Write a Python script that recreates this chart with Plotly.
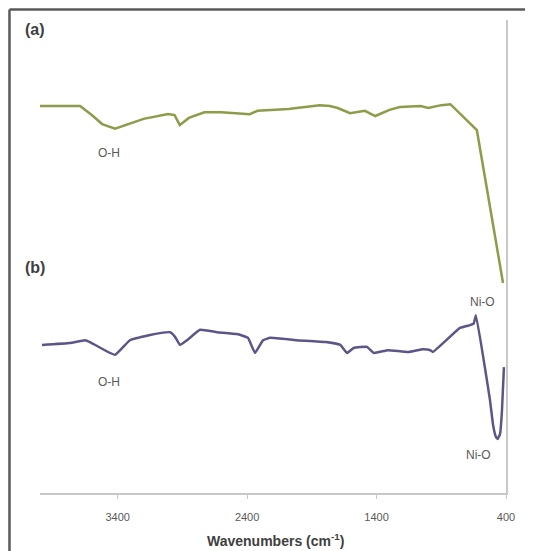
import plotly.graph_objects as go

# Curve (a) – wavenumber (cm-1) and relative transmittance (a.u.)
wn_a = [4000, 3690, 3600, 3520, 3420, 3310, 3200, 3010, 2960, 2920, 2850, 2730, 2600,
        2380, 2320, 2080, 1840, 1760, 1700, 1605, 1490, 1410, 1300, 1220, 1060, 1000,
        900, 830, 760, 625, 423]
t_a = [81.8, 81.8, 79.9, 78.0, 77.0, 78.0, 79.1, 80.1, 79.9, 77.8, 79.3, 80.5, 80.5,
       80.1, 80.8, 81.2, 82.0, 81.8, 81.4, 80.3, 80.8, 79.7, 81.0, 81.6, 81.8, 81.4,
       82.0, 82.2, 80.3, 76.7, 44.4]

# Curve (b)
wn_b = [3985, 3770, 3652, 3614, 3421, 3305, 3150, 3073, 2996, 2957, 2918, 2864, 2764,
        2633, 2478, 2393, 2339, 2277, 2220, 2022, 1790, 1680, 1628, 1574, 1474, 1420,
        1312, 1157, 1041, 987, 965, 756, 678, 650, 632, 560, 524, 500, 480, 465, 446,
        431, 416]
t_b = [31.3, 31.7, 32.3, 31.9, 29.2, 32.3, 33.4, 33.8, 34.0, 33.0, 31.3, 32.3, 34.5,
       34.0, 33.6, 32.8, 29.6, 32.3, 32.8, 32.3, 31.9, 31.3, 29.6, 30.7, 30.9, 29.6,
       30.2, 29.8, 30.4, 30.2, 29.8, 34.9, 35.5, 35.8, 37.6, 26.0, 19.7, 14.4, 12.0,
       11.4, 12.5, 17.5, 26.6]

x_ticks = [3400, 2400, 1400, 400]

GREEN = "#8c9c48"
PURPLE = "#5b5588"
FONT = "Liberation Sans"

fig = go.Figure()
fig.add_trace(go.Scatter(x=wn_a, y=t_a, mode="lines",
                         line=dict(color=GREEN, width=2.5), hoverinfo="skip"))
fig.add_trace(go.Scatter(x=wn_b, y=t_b, mode="lines",
                         line=dict(color=PURPLE, width=2.5, shape="spline", smoothing=0.3),
                         hoverinfo="skip"))

ann_font = dict(family=FONT, size=12, color="#595959")
lab_font = dict(family=FONT, size=16, color="#404040")
annotations = [
    dict(x=-0.036, y=0.979, xref="paper", yref="paper", text="<b>(a)</b>",
         showarrow=False, font=lab_font, xanchor="left", yanchor="middle"),
    dict(x=-0.036, y=0.476, xref="paper", yref="paper", text="<b>(b)</b>",
         showarrow=False, font=lab_font, xanchor="left", yanchor="middle"),
    dict(x=3467, y=71.9, text="O-H", showarrow=False, font=ann_font),
    dict(x=3467, y=23.5, text="O-H", showarrow=False, font=ann_font),
    dict(x=585, y=40.4, text="Ni-O", showarrow=False, font=ann_font),
    dict(x=609, y=8.0, text="Ni-O", showarrow=False, font=ann_font),
    dict(x=0.506, y=-0.099, xref="paper", yref="paper",
         text="<b>Wavenumbers (cm<sup>-1</sup>)</b>", showarrow=False,
         font=dict(family=FONT, size=14, color="#404040"),
         xanchor="center", yanchor="middle"),
]

# outer frame (top and left edges)
shapes = [
    dict(type="line", xref="paper", yref="paper", x0=-0.0655, x1=1.06,
         y0=1.0222, y1=1.0222, line=dict(color="#5a5a5a", width=2.5)),
    dict(type="line", xref="paper", yref="paper", x0=-0.0655, x1=-0.0655,
         y0=1.0222, y1=-0.13, line=dict(color="#5a5a5a", width=2.5)),
]

fig.update_layout(
    width=525, height=543,
    margin=dict(l=32, r=27, t=12, b=58),
    paper_bgcolor="white", plot_bgcolor="white",
    showlegend=False,
    annotations=annotations,
    shapes=shapes,
    xaxis=dict(range=[4000, 400], tickvals=x_ticks, ticktext=[str(v) for v in x_ticks],
               showgrid=False, zeroline=False, showline=True, linecolor="#c8c8c8",
               linewidth=1.5, ticks="outside", ticklen=4, tickcolor="#c8c8c8",
               ticklabelstandoff=9,
               tickfont=dict(family=FONT, size=11, color="#595959")),
    yaxis=dict(range=[0, 100], side="right", showgrid=False, zeroline=False,
               showline=True, linecolor="#c8c8c8", linewidth=1.5,
               showticklabels=False, ticks=""),
)

fig.write_html("out.html")
